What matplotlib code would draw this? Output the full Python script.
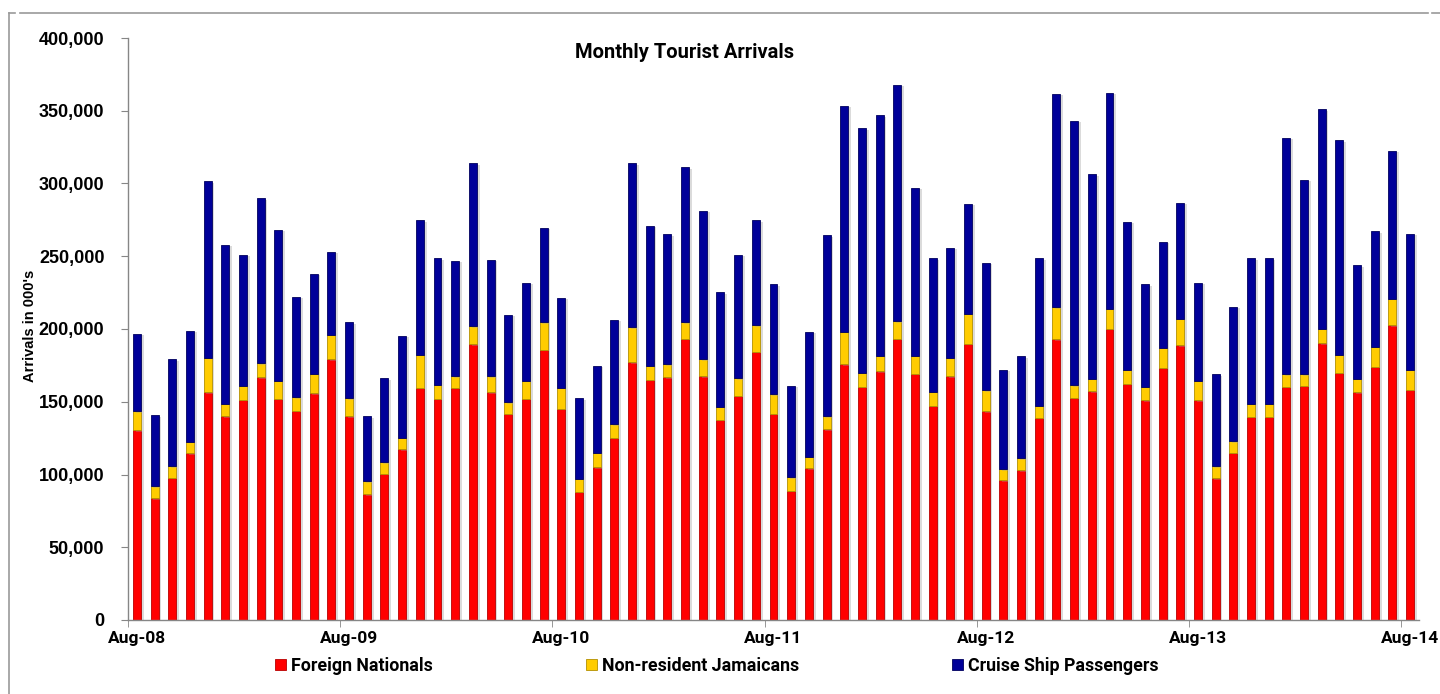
import numpy as np
import matplotlib
matplotlib.use('Agg')
import matplotlib.pyplot as plt
import matplotlib.patheffects as pe
from matplotlib.lines import Line2D
from matplotlib.patches import Patch

# monthly data Aug-08 .. Aug-14
months = ['Aug-08', 'Sep-08', 'Oct-08', 'Nov-08', 'Dec-08', 'Jan-09', 'Feb-09', 'Mar-09', 'Apr-09',
          'May-09', 'Jun-09', 'Jul-09', 'Aug-09', 'Sep-09', 'Oct-09', 'Nov-09', 'Dec-09', 'Jan-10',
          'Feb-10', 'Mar-10', 'Apr-10', 'May-10', 'Jun-10', 'Jul-10', 'Aug-10', 'Sep-10', 'Oct-10',
          'Nov-10', 'Dec-10', 'Jan-11', 'Feb-11', 'Mar-11', 'Apr-11', 'May-11', 'Jun-11', 'Jul-11',
          'Aug-11', 'Sep-11', 'Oct-11', 'Nov-11', 'Dec-11', 'Jan-12', 'Feb-12', 'Mar-12', 'Apr-12',
          'May-12', 'Jun-12', 'Jul-12', 'Aug-12', 'Sep-12', 'Oct-12', 'Nov-12', 'Dec-12', 'Jan-13',
          'Feb-13', 'Mar-13', 'Apr-13', 'May-13', 'Jun-13', 'Jul-13', 'Aug-13', 'Sep-13', 'Oct-13',
          'Nov-13', 'Dec-13', 'Jan-14', 'Feb-14', 'Mar-14', 'Apr-14', 'May-14', 'Jun-14', 'Jul-14',
          'Aug-14']

foreign = [130300, 83600, 97600, 114500, 156500, 139900, 151200, 166700, 152100, 143700, 155900, 179200,
           139900, 86500, 100500, 117400, 159400, 152100, 159400, 189400, 156500, 141900, 152100, 185900,
           145100, 88300, 104900, 125300, 177200, 165200, 166700, 193200, 167600, 137800, 153900, 184200,
           141900, 88900, 104300, 131100, 175700, 160300, 171000, 193200, 169000, 147200, 167600, 190000,
           143400, 95900, 102900, 138800, 193000, 152600, 157200, 200100, 162400, 151100, 173400, 188700,
           151100, 97400, 114900, 139700, 139700, 160200, 160900, 190300, 170100, 156600, 174000, 202500,
           158100]

nonresident = [13100, 8200, 7900, 7900, 23600, 8700, 9700, 9600, 12500, 9300, 13100, 16900,
               12500, 8800, 7900, 7900, 22700, 9600, 8200, 12500, 11100, 7600, 12500, 18700,
               14600, 8700, 10200, 9300, 23900, 9600, 9000, 11400, 11600, 8800, 12200, 18300,
               13100, 9300, 7900, 8800, 22500, 9600, 10500, 12200, 12500, 9600, 12500, 20400,
               14500, 7700, 8300, 8600, 21800, 8600, 8600, 13800, 9500, 9100, 13500, 18100,
               13100, 8300, 8000, 8900, 8900, 8600, 7900, 9800, 12200, 9200, 13800, 18400,
               13800]

cruise = [53300, 48900, 73700, 76300, 121500, 109300, 90300, 113600, 103500, 69300, 69100, 56800,
          52200, 44600, 57700, 69900, 92700, 86900, 79200, 111900, 80100, 60300, 67100, 64900,
          61800, 55400, 59400, 71700, 112700, 96200, 89500, 106600, 102000, 78600, 85100, 72300,
          75800, 62900, 85700, 124400, 155000, 168100, 165300, 162600, 115700, 91800, 75800, 75800,
          87800, 68300, 69900, 101100, 146800, 182000, 140600, 148600, 101700, 70500, 72900, 80000,
          67400, 63100, 92500, 99900, 99900, 162400, 133900, 151000, 147400, 78100, 79400, 101700,
          93400]

series_names = ['Foreign Nationals', 'Non-resident Jamaicans', 'Cruise Ship Passengers']
colors = ['#FF0000', '#FFCC00', '#000099']
edges = ['#B80000', '#B38F00', '#00005E']

label_font = ['Roboto', 'Liberation Sans']

W, H = 1440, 694
fig = plt.figure(figsize=(W / 100, H / 100), dpi=100)
ax = fig.add_axes([128 / W, 1 - 620 / H, (1419 - 128) / W, (620 - 38) / H])

x = np.arange(len(months)) + 0.5
shadow = [pe.SimplePatchShadow(offset=(2, -1), shadow_rgbFace='#9a9a9a', alpha=0.35), pe.Normal()]

bottom = np.zeros(len(months))
for vals, c, ec in zip([foreign, nonresident, cruise], colors, edges):
    vals = np.array(vals)
    bars = ax.bar(x, vals, width=0.45, bottom=bottom, color=c, edgecolor=ec, linewidth=0.6)
    for b in bars:
        b.set_path_effects(shadow)
    bottom += vals

ax.set_xlim(0, len(months))
ax.set_ylim(0, 400000)
ax.set_yticks(np.arange(0, 400001, 50000))
ax.set_yticklabels([f'{v:,}' for v in range(0, 400001, 50000)],
                   fontfamily='Liberation Sans', fontweight='bold', fontsize=13)

# year labels sit under the August bar, tick marks at the month boundary
year_idx = list(range(0, len(months), 12))
ax.set_xticks([i + 0.5 for i in year_idx])
ax.set_xticklabels([months[i] for i in year_idx], fontfamily=label_font, fontweight='bold', fontsize=12.5)
ax.tick_params(axis='x', which='major', length=0, pad=8)
ax.set_xticks(year_idx, minor=True)
ax.tick_params(axis='x', which='minor', length=5, color='#868686', direction='out')
ax.tick_params(axis='y', length=5, color='#868686', direction='out', pad=12)

for s in ['top', 'right']:
    ax.spines[s].set_visible(False)
for s in ['left', 'bottom']:
    ax.spines[s].set_color('#868686')
    ax.spines[s].set_linewidth(1.0)

fig.text(30 / W, 1 - 326 / H, "Arrivals in 000's", rotation=90, ha='center', va='center',
         fontfamily='Liberation Sans', fontweight='bold', fontsize=10.5)

fig.text(685 / W, 1 - 52 / H, 'Monthly Tourist Arrivals', ha='center', va='center',
         fontfamily=label_font, fontweight='bold', fontsize=14.5)

handles = [Patch(facecolor=c, edgecolor=ec, linewidth=0.6) for c, ec in zip(colors, edges)]
fig.legend(handles, series_names, loc='center', bbox_to_anchor=(717 / W, 1 - 666 / H), ncol=3,
           frameon=False, prop={'family': label_font, 'weight': 'bold', 'size': 12.8},
           handlelength=0.6, handleheight=0.6, handletextpad=0.3, columnspacing=8.6)

# outer chart border (partly cropped in the source)
border = dict(color='#9a9a9a', linewidth=1.2)
fig.add_artist(Line2D([9 / W, 15 / W], [1 - 13 / H, 1 - 13 / H], transform=fig.transFigure, **border))
fig.add_artist(Line2D([20 / W, 1428 / W], [1 - 13 / H, 1 - 13 / H], transform=fig.transFigure, **border))
fig.add_artist(Line2D([1432 / W, 1.0], [1 - 13 / H, 1 - 13 / H], transform=fig.transFigure, **border))
fig.add_artist(Line2D([9 / W, 9 / W], [0.0, 1 - 13 / H], transform=fig.transFigure, **border))

fig.savefig('out.png', dpi=100)
